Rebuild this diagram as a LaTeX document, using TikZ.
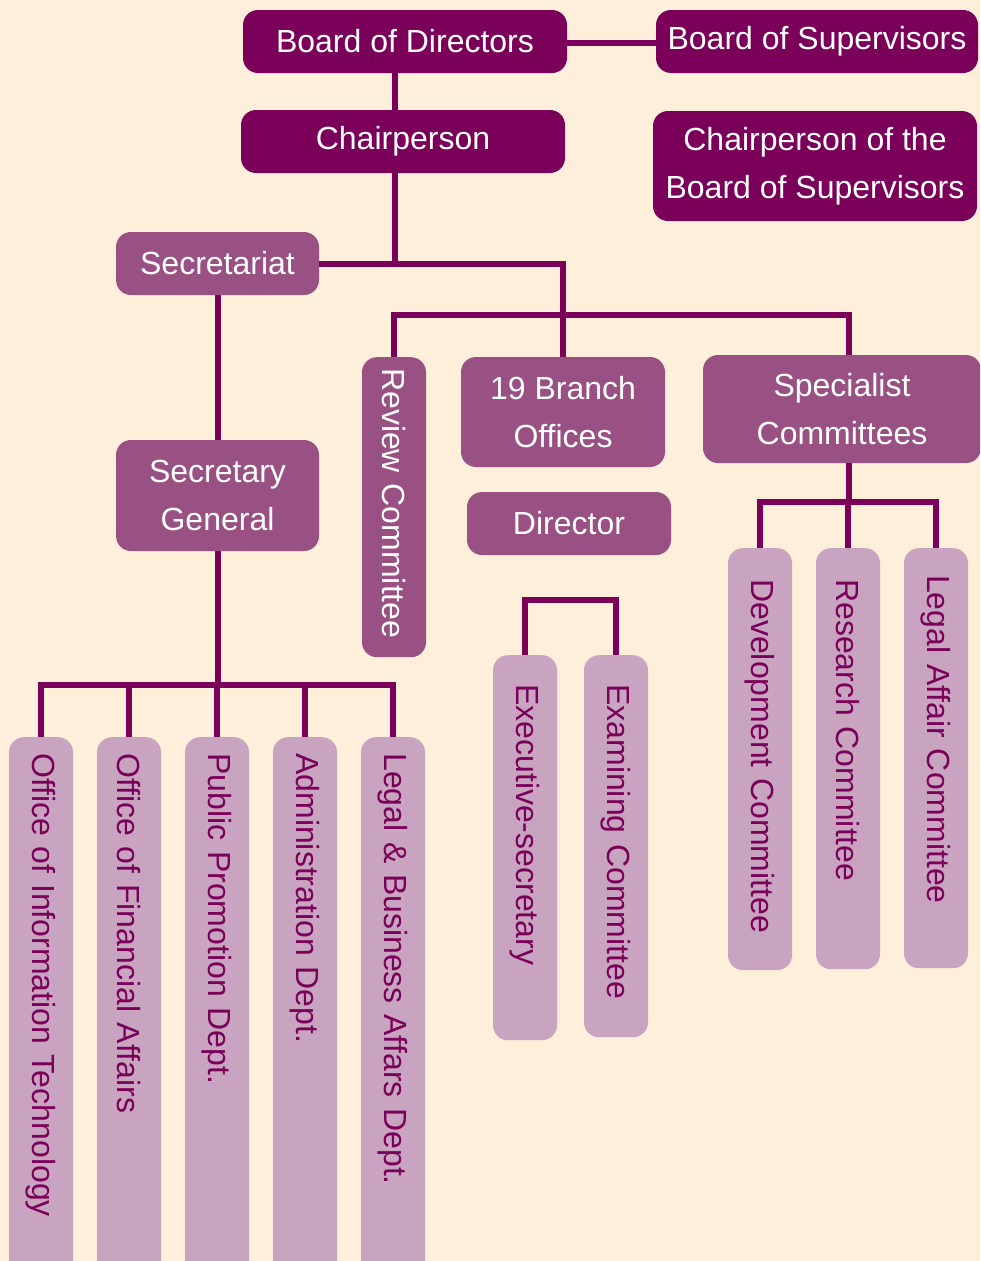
\documentclass[tikz,border=0pt]{standalone}
\usepackage{fontspec}
\setmainfont{Liberation Sans}
\usepackage{xcolor}
\usetikzlibrary{calc}

\definecolor{deep}{RGB}{122,0,89}
\definecolor{mauve}{RGB}{153,80,131}
\definecolor{lilac}{RGB}{200,164,192}
\definecolor{paper}{RGB}{253,239,217}

\tikzset{
  box/.style={rounded corners=15pt, align=center, inner sep=0pt,
    font=\fontsize{32}{48}\selectfont},
  topbox/.style={box, fill=deep, text=white},
  midbox/.style={box, fill=mauve, text=white},
  upbox/.style={box, rotate=-90, anchor=west, minimum height=64pt, align=left},
  link/.style={draw=deep, line width=6pt},
}

\begin{document}
\begin{tikzpicture}[x=1pt,y=-1pt]
	\useasboundingbox (0,0) rectangle (980,1261);
	\clip (0,0) rectangle (980,1261);
	\fill[paper] (0,0) rectangle (980,1261);

	% top of the chart
	\node[topbox, minimum width=324pt, minimum height=63pt] (bod) at (405,41.5) {Board of Directors};
	\node[topbox, minimum width=322pt, minimum height=63pt] (bos) at (817,41.5) {Board of Supervisors};
	\node[topbox, minimum width=324pt, minimum height=63pt] (chair) at (403,141.5) {Chairperson};
	\node[topbox, minimum width=324pt, minimum height=110pt] (cbos) at (815,166) {Chairperson of the\\Board of Supervisors};

	\node[midbox, minimum width=203pt, minimum height=63pt] (sec) at (217.5,263.5) {Secretariat};
	\node[midbox, minimum width=203pt, minimum height=111pt] (sg) at (217.5,495.5) {Secretary\\General};
	\node[midbox, minimum width=204pt, minimum height=110pt] (branch) at (563,412) {19 Branch\\Offices};
	\node[midbox, minimum width=204pt, minimum height=63pt] (dir) at (569,523.5) {Director};
	\node[midbox, minimum width=278pt, minimum height=108pt] (spec) at (842,409) {Specialist\\Committees};

	% upright boxes
	\node[upbox, fill=mauve, text=white, inner xsep=11pt, text width=278pt] (review) at (394,357) {Review Committee};
	\node[upbox, fill=lilac, text=deep, inner xsep=29pt, text width=327pt] (exec) at (525,655) {Executive-secretary};
	\node[upbox, fill=lilac, text=deep, inner xsep=29pt, text width=324pt] (exam) at (616,655) {Examining Committee};
	\node[upbox, fill=lilac, text=deep, inner xsep=31pt, text width=360pt] (dev) at (760,548) {Development Committee};
	\node[upbox, fill=lilac, text=deep, inner xsep=31pt, text width=359pt] (res) at (848,548) {Research Committee};
	\node[upbox, fill=lilac, text=deep, inner xsep=27pt, text width=366pt] (leg) at (936,548) {Legal Affair Committee};

	\foreach \x/\nm/\txt in {41/oit/Office of Information Technology,
		129/ofa/Office of Financial Affairs,
		217/ppd/Public Promotion Dept.,
		305/adm/Administration Dept.,
		393/lbd/Legal \& Business Affars Dept.}
		\node[upbox, fill=lilac, text=deep, inner xsep=16pt, text width=568pt] (\nm) at (\x,737) {\txt};

	% junctions
	\coordinate (trunk) at (395,263.5);
	\coordinate (hub) at (563,315);
	\coordinate (bus) at (217.5,685);
	\coordinate (sbus) at (849,502);

	% connectors
	\draw[link] (bod.east |- 0,43) -- (bos.west |- 0,43);
	\draw[link] (bod.south -| trunk) -- (chair.north -| trunk);
	\draw[link] (chair.south -| trunk) -- (trunk);
	\draw[link] (sec.east) -| (branch.north);
	\draw[link] (review.west) |- (hub) -| (spec.north -| sbus);
	\draw[link] (sec.south) -- (sg.north);
	\draw[link] (sg.south) -- (bus);
	\foreach \nm in {oit,ofa,ppd,adm,lbd}
		\draw[link] (bus) -| (\nm.west);
	\draw[link] (spec.south -| sbus) -- (sbus);
	\foreach \nm in {dev,res,leg}
		\draw[link] (sbus) -| (\nm.west);
	\draw[link] (exec.west) -- ++(0,-55) -| (exam.west);
\end{tikzpicture}
\end{document}
